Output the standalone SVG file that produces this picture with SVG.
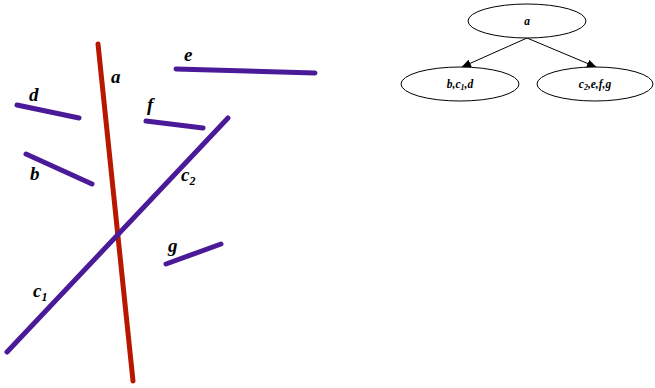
<svg xmlns="http://www.w3.org/2000/svg" width="655" height="388" viewBox="0 0 655 388">
<style>
.seg{stroke-width:5;stroke-linecap:round;fill:none}
.p{stroke:#4a1a98}
.r{stroke:#b81800}
.lbl{font-family:"Liberation Serif",serif;font-style:italic;font-weight:bold;font-size:19px;fill:#000}
.sub{font-size:12px}
.nd{fill:#fff;stroke:#000;stroke-width:1}
.nt{font-family:"Liberation Serif",serif;font-style:italic;font-weight:bold;font-size:11.5px;fill:#000;text-anchor:middle}
.ns{font-size:8px}
.edge{stroke:#000;stroke-width:1;fill:none;marker-end:url(#ah)}
</style>
<defs>
<marker id="ah" markerWidth="10" markerHeight="8" refX="9" refY="4" orient="auto" markerUnits="userSpaceOnUse">
<path d="M0,0 L10,4 L0,8 Z" fill="#000"/>
</marker>
</defs>
<rect width="655" height="388" fill="#fff"/>
<g id="scene">
<g id="seg-a"><line class="seg r" x1="98" y1="44" x2="133" y2="381"/><text class="lbl" x="111" y="83">a</text></g>
<g id="seg-c"><line class="seg p" x1="7" y1="352" x2="228" y2="118"/><text class="lbl" x="181" y="181">c<tspan class="sub" dy="4">2</tspan></text><text class="lbl" x="33" y="297">c<tspan class="sub" dy="4">1</tspan></text></g>
<g id="seg-d"><line class="seg p" x1="17" y1="105" x2="79" y2="118"/><text class="lbl" x="29" y="101">d</text></g>
<g id="seg-b"><line class="seg p" x1="26" y1="154" x2="92" y2="184"/><text class="lbl" x="30" y="180">b</text></g>
<g id="seg-e"><line class="seg p" x1="176" y1="69" x2="315" y2="73"/><text class="lbl" x="184" y="61">e</text></g>
<g id="seg-f"><line class="seg p" x1="146" y1="121" x2="203" y2="128"/><text class="lbl" x="147" y="111">f</text></g>
<g id="seg-g"><line class="seg p" x1="166" y1="264" x2="221" y2="244"/><text class="lbl" x="168" y="252">g</text></g>
</g>
<g id="connectors">
<line class="edge" x1="527" y1="38" x2="462" y2="67"/>
<line class="edge" x1="527" y1="38" x2="596" y2="67"/>
</g>
<g id="node-a"><ellipse class="nd" cx="527" cy="21" rx="59" ry="17"/><text class="nt" x="527" y="25">a</text></g>
<g id="node-bcd"><ellipse class="nd" cx="460" cy="84" rx="59" ry="17"/><text class="nt" x="460" y="88">b,c<tspan class="ns" dy="2">1</tspan><tspan dy="-2">,d</tspan></text></g>
<g id="node-cefg"><ellipse class="nd" cx="595" cy="84" rx="58" ry="17"/><text class="nt" x="595" y="88">c<tspan class="ns" dy="2">2</tspan><tspan dy="-2">,e,f,g</tspan></text></g>
</svg>
